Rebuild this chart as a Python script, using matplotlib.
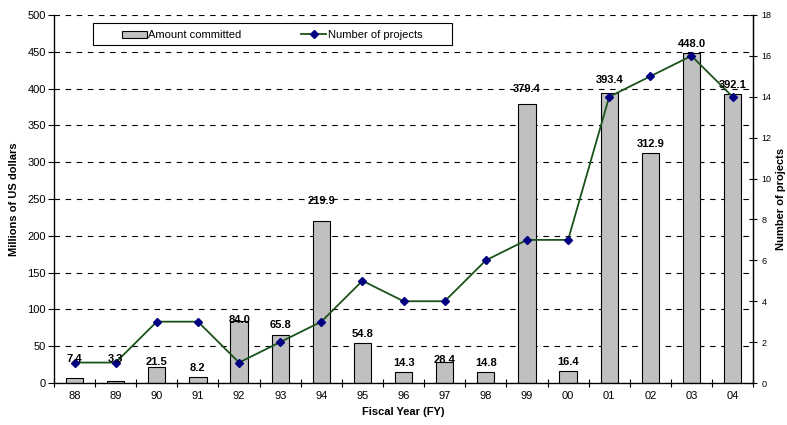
import numpy as np
import matplotlib.pyplot as plt
from matplotlib.patches import Rectangle
from matplotlib.ticker import MultipleLocator, FixedLocator

plt.rcParams['font.family'] = ['Liberation Sans', 'DejaVu Sans']

years = ['88', '89', '90', '91', '92', '93', '94', '95', '96', '97', '98',
         '99', '00', '01', '02', '03', '04']
amount = [7.4, 3.3, 21.5, 8.2, 84.0, 65.8, 219.9, 54.8, 14.3, 28.4, 14.8,
          379.4, 16.4, 393.4, 312.9, 448.0, 392.1]
projects = [1, 1, 3, 3, 1, 2, 3, 5, 4, 4, 6, 7, 7, 14, 15, 16, 14]

# extra lift (points) for some value labels so they clear the line
label_nudge = [7, 9, -3, 0, -6, 0, 8, 0, 0, -5, 0, 4, 0, 3, 0, 0, 0]

fig = plt.figure(figsize=(7.87, 4.25), dpi=100)
ax = fig.add_axes([0.0686, 0.0988, 0.8884, 0.866])
x = np.arange(len(years))

ax.bar(x, amount, width=0.42, color='#c0c0c0', edgecolor='black',
       linewidth=0.8, zorder=2, label='Amount committed')

ax.set_ylim(0, 500)
ax.set_xlim(-0.5, len(years) - 0.5)
ax.yaxis.set_major_locator(MultipleLocator(50))
ax.set_xticks(x)
ax.set_xticklabels(years)
ax.xaxis.set_minor_locator(FixedLocator(np.arange(-0.5, len(years), 1.0)))
ax.tick_params(axis='x', which='major', length=0, labelsize=8, pad=6)
ax.tick_params(axis='x', which='minor', direction='inout', length=6, width=0.8)
ax.tick_params(axis='y', direction='out', length=4, width=0.8, labelsize=8, pad=2)
ax.yaxis.grid(True, color='black', linestyle=(0, (5, 5)), linewidth=0.8)
ax.set_axisbelow(True)
ax.spines['top'].set_visible(False)
for s in ['left', 'bottom', 'right']:
    ax.spines[s].set_linewidth(0.9)

ax.set_ylabel('Millions of US dollars', fontsize=8, fontweight='bold', labelpad=6)
ax.set_xlabel('Fiscal Year (FY)', fontsize=8, fontweight='bold', labelpad=4)

ax2 = ax.twinx()
ax2.plot(x, projects, color='#1a531a', linewidth=1.3, marker='D',
         markersize=4.5, markerfacecolor='#000080', markeredgecolor='#000080',
         zorder=4, label='Number of projects')
ax2.set_ylim(0, 18)
ax2.yaxis.set_major_locator(MultipleLocator(2))
ax2.tick_params(axis='y', direction='inout', length=6, width=0.8, labelsize=6.5, pad=3)
ax2.spines['top'].set_visible(False)
ax2.spines['right'].set_linewidth(0.9)
ax2.set_ylabel('Number of projects', fontsize=8, fontweight='bold', labelpad=3)

# value labels on top of everything, placed in the dollar scale
for xi, v, n in zip(x, amount, label_nudge):
    ax2.annotate(f'{v:.1f}', (xi, v), xycoords=ax.transData,
                 xytext=(0, 3 + n), textcoords='offset points',
                 ha='center', va='bottom', fontsize=8, fontweight='bold', zorder=5)

# legend frame spans wider than its entries, entries centred inside
ax2.add_patch(Rectangle((0.0558, 0.918), 0.513, 0.060, transform=ax2.transAxes,
                        facecolor='white', edgecolor='black', linewidth=0.8,
                        zorder=6, clip_on=False))
h1, l1 = ax.get_legend_handles_labels()
h2, l2 = ax2.get_legend_handles_labels()
leg = ax2.legend(h1 + h2, l1 + l2, ncol=2, loc='center',
                 bbox_to_anchor=(0.312, 0.945), fontsize=8, frameon=False,
                 borderpad=0.0, handlelength=2.2, handleheight=0.6,
                 columnspacing=5.4, handletextpad=0.15)
leg.set_zorder(7)

fig.savefig('out.png', dpi=100)
